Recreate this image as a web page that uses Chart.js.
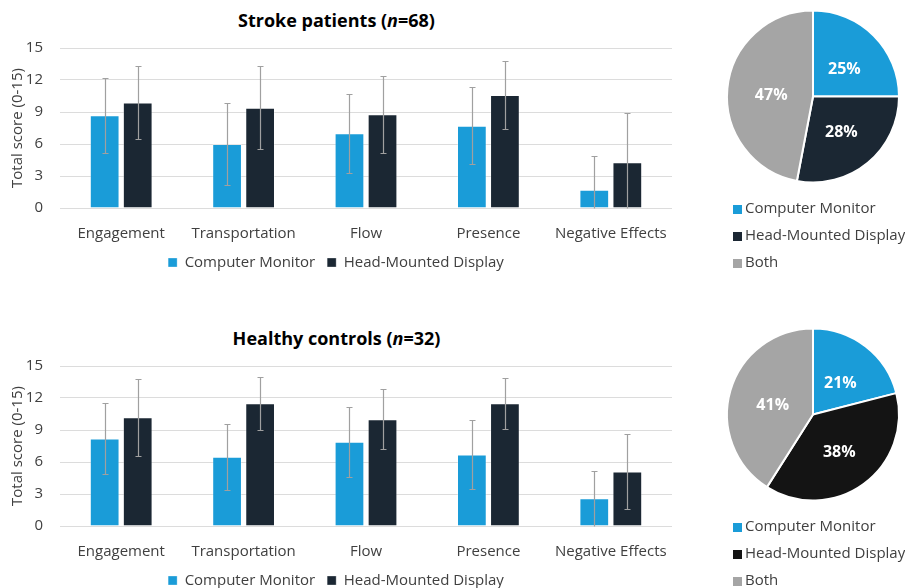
<!DOCTYPE html>
<html>
<head>
<meta charset="utf-8">
<script src="https://cdn.jsdelivr.net/npm/chart.js@4.4.1/dist/chart.umd.min.js"></script>
<style>
  html, body { margin: 0; padding: 0; background: #fff; overflow: hidden; width: 905px; height: 588px; }
  canvas { position: absolute; }
  .title { position: absolute; font-family: 'Open Sans', sans-serif; font-weight: 700; font-size: 18px;
           color: #000; text-align: center; line-height: 22px; white-space: nowrap; }
</style>
</head>
<body>
<div class="title" style="left:0;top:9px;width:673px">Stroke patients (<i>n</i>=68)</div>
<canvas id="barStroke" width="683" height="250" style="left:0;top:30px"></canvas>
<canvas id="pieStroke" width="184" height="281" style="left:721px;top:0"></canvas>

<div class="title" style="left:0;top:327px;width:673px">Healthy controls (<i>n</i>=32)</div>
<canvas id="barHealthy" width="683" height="250" style="left:0;top:348px"></canvas>
<canvas id="pieHealthy" width="184" height="281" style="left:721px;top:318px"></canvas>

<script>
// Questionnaire subscales
const categories = ['Engagement', 'Transportation', 'Flow', 'Presence', 'Negative Effects'];
const seriesNames = ['Computer Monitor', 'Head-Mounted Display'];
const yTicks = [0, 3, 6, 9, 12, 15];

// Stroke patients: mean total score and standard deviation
const strokeMonitorMean = [8.7, 6.0, 7.0, 7.7, 1.7];
const strokeMonitorSD   = [3.5, 3.8, 3.7, 3.6, 3.2];
const strokeHmdMean     = [9.9, 9.4, 8.8, 10.6, 4.3];
const strokeHmdSD       = [3.4, 3.9, 3.6, 3.2, 4.6];

// Healthy controls: mean total score and standard deviation
const healthyMonitorMean = [8.2, 6.5, 7.9, 6.7, 2.6];
const healthyMonitorSD   = [3.3, 3.1, 3.3, 3.2, 2.6];
const healthyHmdMean     = [10.2, 11.5, 10.0, 11.5, 5.1];
const healthyHmdSD       = [3.6, 2.5, 2.8, 2.4, 3.5];

// Preferred display (% of participants)
const preferenceLabels = ['Computer Monitor', 'Head-Mounted Display', 'Both'];
const strokePreference  = [25, 28, 47];
const healthyPreference = [21, 38, 41];

const BLUE = '#1a9cd8';
const NAVY = '#1b2733';
const BLACK = '#141414';
const GREY = '#a5a5a5';
const TEXT = '#404040';

Chart.defaults.font.family = "'Open Sans', sans-serif";
Chart.defaults.font.size = 15;
Chart.defaults.color = TEXT;

// Draws mean ± SD whiskers on top of every bar
const errorBars = {
  id: 'errorBars',
  afterDatasetsDraw(chart) {
    const ctx = chart.ctx;
    const y = chart.scales.y;
    const cap = 3;
    chart.data.datasets.forEach((ds, i) => {
      const meta = chart.getDatasetMeta(i);
      meta.data.forEach((bar, j) => {
        const mean = ds.data[j], sd = ds.errors[j];
        const lowVal = mean - sd;
        const top = Math.round(y.getPixelForValue(mean + sd)) + 0.5;
        const bottom = Math.round(y.getPixelForValue(Math.max(lowVal, 0))) + 0.5;
        const x = Math.round(bar.x) + 0.5;
        ctx.save();
        ctx.strokeStyle = '#a0a0a0';
        ctx.lineWidth = 1.2;
        ctx.beginPath();
        ctx.moveTo(x, top); ctx.lineTo(x, bottom);
        ctx.moveTo(x - cap, top); ctx.lineTo(x + cap, top);
        if (lowVal > 0) { ctx.moveTo(x - cap, bottom); ctx.lineTo(x + cap, bottom); }
        ctx.stroke();
        ctx.restore();
      });
    });
  }
};

// Percent labels inside pie slices
const sliceLabels = {
  id: 'sliceLabels',
  afterDatasetsDraw(chart) {
    const ctx = chart.ctx;
    const meta = chart.getDatasetMeta(0);
    const data = chart.data.datasets[0].data;
    ctx.save();
    ctx.fillStyle = '#fff';
    ctx.font = "700 16px 'Open Sans', sans-serif";
    ctx.textAlign = 'center';
    ctx.textBaseline = 'middle';
    meta.data.forEach((arc, i) => {
      const p = arc.tooltipPosition();
      ctx.fillText(data[i] + '%', p.x + 1, p.y + 3);
    });
    ctx.restore();
  }
};

// Vertical legend under each pie, one row per slice
const pieLegend = {
  id: 'pieLegend',
  afterDraw(chart, args, opts) {
    const ctx = chart.ctx;
    const ds = chart.data.datasets[0];
    ctx.save();
    ctx.font = "15px 'Open Sans', sans-serif";
    ctx.textBaseline = 'middle';
    ctx.textAlign = 'left';
    chart.data.labels.forEach((label, i) => {
      const y = opts.top + i * opts.rowGap;
      ctx.fillStyle = ds.backgroundColor[i];
      ctx.fillRect(opts.left, Math.round(y - 4.5), 9, 9);
      ctx.fillStyle = TEXT;
      ctx.fillText(label, opts.left + 12, y);
    });
    ctx.restore();
  }
};

function barChart(id, monitorMean, monitorSD, hmdMean, hmdSD) {
  const barStyle = { categoryPercentage: 0.54, barPercentage: 0.9,
                     borderWidth: 1, borderColor: 'rgba(255,255,255,0.3)' };
  return new Chart(document.getElementById(id), {
    type: 'bar',
    data: {
      labels: categories,
      datasets: [
        Object.assign({ label: seriesNames[0], data: monitorMean, errors: monitorSD, backgroundColor: BLUE }, barStyle),
        Object.assign({ label: seriesNames[1], data: hmdMean, errors: hmdSD, backgroundColor: NAVY }, barStyle)
      ]
    },
    options: {
      responsive: false,
      animation: false,
      layout: { padding: { top: 18, right: 11, left: 0, bottom: 0 } },
      plugins: {
        legend: {
          position: 'bottom',
          labels: { boxWidth: 9, boxHeight: 9, padding: 12, color: TEXT, font: { size: 15 } }
        },
        tooltip: { enabled: false }
      },
      scales: {
        x: {
          grid: { display: false },
          border: { display: false },
          ticks: { padding: 9, maxRotation: 0, color: TEXT, font: { size: 15 } },
          afterFit(axis) { axis.height = 35; axis.paddingLeft = 0; axis.paddingRight = 0; }
        },
        y: {
          min: yTicks[0],
          max: yTicks[yTicks.length - 1],
          afterBuildTicks(axis) { axis.ticks = yTicks.map(v => ({ value: v })); },
          grid: { color: '#dcdcdc', drawTicks: false },
          border: { display: false },
          ticks: { padding: 17, color: TEXT, font: { size: 15 } },
          title: { display: true, text: 'Total score (0-15)', color: TEXT, font: { size: 15 },
                   padding: { top: 9, bottom: 0 } },
          afterFit(axis) { axis.width = 60; axis.paddingTop = 0; axis.paddingBottom = 0; }
        }
      }
    },
    plugins: [errorBars]
  });
}

function pieChart(id, values, hmdColor) {
  return new Chart(document.getElementById(id), {
    type: 'pie',
    data: {
      labels: preferenceLabels,
      datasets: [{
        data: values,
        backgroundColor: [BLUE, hmdColor, GREY],
        borderColor: '#fff',
        borderWidth: 2,
        radius: 86
      }]
    },
    options: {
      responsive: false,
      animation: false,
      layout: { padding: { top: 3, bottom: 91 } },
      plugins: {
        legend: { display: false },
        tooltip: { enabled: false },
        pieLegend: { left: 12, top: 209, rowGap: 27 }
      }
    },
    plugins: [sliceLabels, pieLegend]
  });
}

barChart('barStroke', strokeMonitorMean, strokeMonitorSD, strokeHmdMean, strokeHmdSD);
barChart('barHealthy', healthyMonitorMean, healthyMonitorSD, healthyHmdMean, healthyHmdSD);
pieChart('pieStroke', strokePreference, NAVY);
pieChart('pieHealthy', healthyPreference, BLACK);
</script>
</body>
</html>
